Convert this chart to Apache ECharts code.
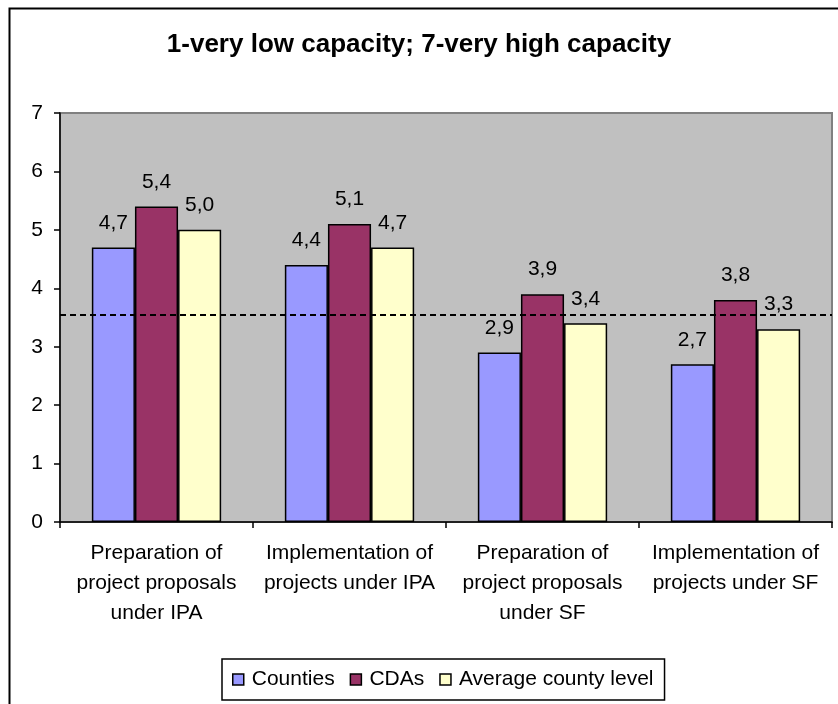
<!DOCTYPE html>
<html>
<head>
<meta charset="utf-8">
<script src="https://cdn.jsdelivr.net/npm/echarts@6/dist/echarts.min.js"></script>
<style>
  html, body { margin: 0; padding: 0; background: #ffffff; }
  #chart { width: 838px; height: 704px; }
</style>
</head>
<body>
<div id="chart"></div>
<script>
// Capacity ratings on a 1–7 scale
const categories = [
  'Preparation of\nproject proposals\nunder IPA',
  'Implementation of\nprojects under IPA',
  'Preparation of\nproject proposals\nunder SF',
  'Implementation of\nprojects under SF'
];
const counties = [4.7, 4.4, 2.9, 2.7];
const cdas = [5.4, 5.1, 3.9, 3.8];
const averageCountyLevel = [5.0, 4.7, 3.4, 3.3];
const referenceLevel = 3.54;
const yTicks = [0, 1, 2, 3, 4, 5, 6, 7];

const FONT = '"Liberation Sans", Arial, sans-serif';
const fmt = v => v.toFixed(1).replace('.', ',');

function barSeries(name, data, color) {
  return {
    name: name,
    type: 'bar',
    data: data,
    barGap: 0,
    barCategoryGap: '33%',
    itemStyle: { color: color, borderColor: '#000', borderWidth: 1.5 },
    label: {
      show: true,
      position: 'top',
      distance: 14,
      color: '#000',
      fontFamily: FONT,
      fontSize: 21,
      formatter: p => fmt(p.value)
    },
    emphasis: { disabled: true }
  };
}

const series = [
  barSeries('Counties', counties, '#9999FF'),
  barSeries('CDAs', cdas, '#993366'),
  barSeries('Average county level', averageCountyLevel, '#FFFFCC')
];
series[2].markLine = {
  silent: true,
  symbol: ['none', 'none'],
  label: { show: false },
  lineStyle: { color: '#000', type: [6, 4], width: 2 },
  data: [{ yAxis: referenceLevel }],
  z: 10
};

const chart = echarts.init(document.getElementById('chart'), null, { renderer: 'canvas' });
chart.setOption({
  animation: false,
  backgroundColor: '#ffffff',
  title: {
    text: '1-very low capacity; 7-very high capacity',
    left: 'center',
    top: 27,
    textStyle: { fontFamily: FONT, fontSize: 26, fontWeight: 'bold', color: '#000' }
  },
  graphic: [{
    type: 'rect',
    left: 7, top: 6,
    shape: { width: 900, height: 800 },
    style: { fill: 'none', stroke: '#000', lineWidth: 2 },
    silent: true
  }],
  legend: {
    bottom: 4,
    left: 222,
    icon: 'rect',
    itemWidth: 11,
    itemHeight: 11,
    itemGap: 15,
    padding: [10, 11, 10, 10],
    borderColor: '#000',
    borderWidth: 1.5,
    itemStyle: { borderColor: '#000', borderWidth: 1.5 },
    textStyle: { fontFamily: FONT, fontSize: 21, color: '#000', padding: [0, 0, 0, 3] },
    data: ['Counties', 'CDAs', 'Average county level']
  },
  grid: {
    left: 60, right: 6, top: 113, bottom: 182,
    show: true,
    backgroundColor: '#C0C0C0',
    borderColor: '#808080',
    borderWidth: 2
  },
  xAxis: {
    type: 'category',
    data: categories,
    axisLine: { lineStyle: { color: '#000', width: 1.5 } },
    axisTick: { show: true, length: 6, alignWithLabel: false, lineStyle: { color: '#000', width: 1.5 } },
    axisLabel: {
      interval: 0,
      margin: 16,
      color: '#000',
      fontFamily: FONT,
      fontSize: 21,
      lineHeight: 30,
      align: 'center'
    },
    splitLine: { show: false }
  },
  yAxis: {
    type: 'value',
    min: yTicks[0],
    max: yTicks[yTicks.length - 1],
    interval: 1,
    axisLine: { show: true, lineStyle: { color: '#000', width: 1.5 } },
    axisTick: { show: true, length: 6, lineStyle: { color: '#000', width: 1.5 } },
    axisLabel: { margin: 17, color: '#000', fontFamily: FONT, fontSize: 21 },
    splitLine: { show: false }
  },
  series: series
});
</script>
</body>
</html>
